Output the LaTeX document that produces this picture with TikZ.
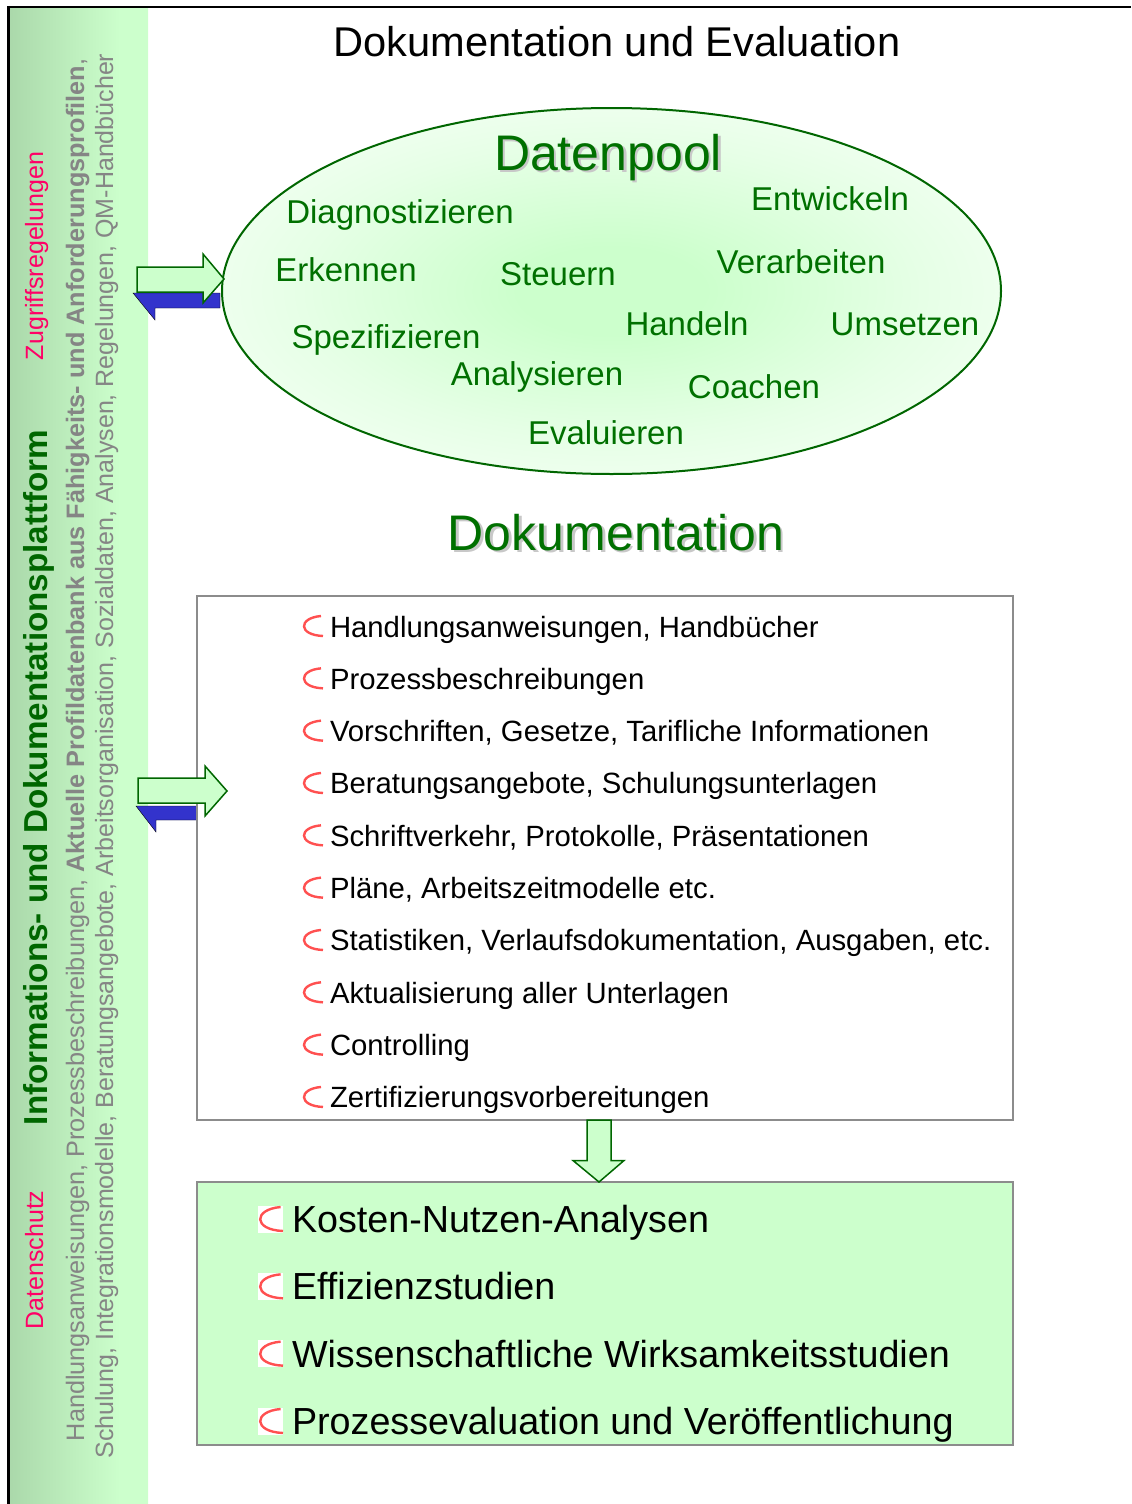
\documentclass[tikz,border=0pt]{standalone}
\usepackage{fontspec}
\setmainfont{Liberation Sans}
\usetikzlibrary{shapes.geometric,calc}
\definecolor{bandL}{HTML}{9CC89C}
\definecolor{bandR}{HTML}{CCFFCC}
\definecolor{lightgreen}{HTML}{CCFFCC}
\definecolor{darkgreen}{HTML}{006600}
\definecolor{wordgreen}{HTML}{007000}
\definecolor{pinkred}{HTML}{FF0066}
\definecolor{sidegray}{HTML}{858585}
\definecolor{boxgray}{HTML}{8C8C8C}
\definecolor{arrowblue}{HTML}{3333CC}
\definecolor{bulletred}{HTML}{FF5050}
\definecolor{poolcenter}{HTML}{CCFFCC}
\definecolor{poolmid}{HTML}{E6FFE6}
\definecolor{pooledge}{HTML}{FAFFFA}
\definecolor{shadowgray}{HTML}{C8C8C8}
\pgfdeclarehorizontalshading{bandshade}{100bp}{color(0bp)=(bandL); color(8bp)=(bandL); color(65bp)=(bandR); color(100bp)=(bandR)}
\pgfdeclareradialshading{poolshade}{\pgfpoint{0bp}{0bp}}{color(0bp)=(poolcenter); color(6bp)=(poolcenter); color(20bp)=(poolmid); color(34bp)=(pooledge); color(50bp)=(pooledge)}
\tikzset{
  redc/.pic={\draw[bulletred, line width=2.4pt, line cap=butt] (8,-10) .. controls (-15,-8) and (-15,9) .. (10,10);}
}
\begin{document}
\begin{tikzpicture}[x=1pt,y=-1pt,
  every node/.style={inner sep=0pt, outer sep=0pt},
  word/.style={text=wordgreen, font=\fontsize{33}{40}\selectfont, anchor=base},
  heading/.style={text=wordgreen, font=\fontsize{50}{60}\selectfont, anchor=base},
  headshadow/.style={text=shadowgray, font=\fontsize{50}{60}\selectfont, anchor=base},
  listitem/.style={font=\fontsize{29.3}{35}\selectfont, anchor=base west},
  bigitem/.style={font=\fontsize{37.7}{45}\selectfont, anchor=base west},
  sidepink/.style={text=pinkred, font=\fontsize{25}{30}\selectfont, rotate=90, anchor=base},
  sidegraytext/.style={text=sidegray, font=\fontsize{25}{30}\selectfont, rotate=90, anchor=base},
  blockarrow/.style={fill=lightgreen, draw=darkgreen, line width=1.5pt, line join=miter},
  backarrow/.style={fill=arrowblue},
  boxframe/.style={draw=boxgray, line width=1.5pt, rectangle, anchor=north west}
]
\useasboundingbox (0,0) rectangle (1132,1504);
% side band
\shade[shading=bandshade] (9,7) rectangle (148,1504);
\draw[black, line width=2pt] (7.5,7) -- (1131,7);
\draw[black, line width=2.6pt] (8.5,6) -- (8.5,1504);

% side texts
\node[sidepink] (zugriff) at (43,256) {Zugriffsregelungen};
\node[sidepink] (datenschutz) at (43,1260) {Datenschutz};
\node[rotate=90, anchor=base, text=darkgreen, font=\bfseries\fontsize{33.2}{40}\selectfont] (plattform) at (47,777.5) {Informations- und Dokumentationsplattform};
\node[sidegraytext, font=\fontsize{25.25}{30}\selectfont] (colb) at (84,750) {Handlungsanweisungen, Prozessbeschreibungen, \textbf{Aktuelle Profildatenbank aus Fähigkeits- und Anforderungsprofilen},};
\node[sidegraytext] (colc) at (113,756) {Schulung, Integrationsmodelle, Beratungsangebote, Arbeitsorganisation, Sozialdaten, Analysen, Regelungen, QM-Handbücher};

% title
\node[anchor=base, font=\fontsize{41.6}{50}\selectfont] (title) at (617,57) {Dokumentation und Evaluation};

% ellipse
\node[ellipse, draw=darkgreen, line width=2pt, shade, shading=poolshade, minimum width=779pt, minimum height=366pt] (pool) at (611.5,291) {};
\node[headshadow] at (610.5,172.5) {Datenpool};
\node[heading] (datenpool) at (608,170) {Datenpool};
\node[word] (w1) at (400,223) {Diagnostizieren};
\node[word] (w2) at (830,210) {Entwickeln};
\node[word] (w3) at (346,281) {Erkennen};
\node[word] (w4) at (558,285) {Steuern};
\node[word] (w5) at (801,273) {Verarbeiten};
\node[word] (w6) at (386,348) {Spezifizieren};
\node[word] (w7) at (687,335) {Handeln};
\node[word] (w8) at (905,335) {Umsetzen};
\node[word] (w9) at (537,385) {Analysieren};
\node[word] (w10) at (754,398) {Coachen};
\node[word] (w11) at (606,444) {Evaluieren};

% Dokumentation heading
\node[headshadow] at (618.5,552.5) {Dokumentation};
\node[heading] (dokhead) at (616,550) {Dokumentation};

% list box
\node[boxframe, fill=white, minimum width=816pt, minimum height=524pt] (listbox) at (197,596) {};
\foreach \t [count=\i] in {{Handlungsanweisungen, Handbücher},{Prozessbeschreibungen},{Vorschriften, Gesetze, Tarifliche Informationen},{Beratungsangebote, Schulungsunterlagen},{Schriftverkehr, Protokolle, Präsentationen},{Pläne, Arbeitszeitmodelle etc.},{Statistiken, Verlaufsdokumentation, Ausgaben, etc.},{Aktualisierung aller Unterlagen},{Controlling},{Zertifizierungsvorbereitungen}}{
  \pgfmathsetmacro\yy{626+(\i-1)*52.33}
  \pic at (313,\yy) {redc};
  \node[listitem] (item\i) at (330,\yy+11) {\t};
}

% green result box
\node[boxframe, fill=lightgreen, minimum width=816pt, minimum height=263pt] (resbox) at (197,1182) {};
\foreach \t [count=\i] in {{Kosten-Nutzen-Analysen},{Effizienzstudien},{Wissenschaftliche Wirksamkeitsstudien},{Prozessevaluation und Veröffentlichung}}{
  \pgfmathsetmacro\yy{1219+(\i-1)*67.33}
  \fill[white] (258,\yy-13.5) rectangle (283,\yy+13.5);
  \pic[scale=1.2] at (271,\yy) {redc};
  \node[bigitem] (res\i) at (292,\yy+13.5) {\t};
}

% down arrow from list box to result box
\coordinate (dtop) at ($(listbox.south west)+(402,0)$);
\coordinate (dtip) at ($(resbox.north west)+(402,0)$);
\draw[blockarrow] ($(dtop)+(-12,0)$) -- ($(dtop)+(12,0)$) -- ($(dtop)+(12,40.5)$) -- ($(dtop)+(25,40.5)$) -- (dtip) -- ($(dtop)+(-26,40.5)$) -- ($(dtop)+(-12,40.5)$) -- cycle;

% left arrows: to the ellipse
\coordinate (tipA) at (pool.west);
\draw[backarrow] (133,293) -- (220,293) -- (220,308) -- (155,308) -- (155,320) -- cycle;
\draw[blockarrow] (137,267) -- (203,267) -- (203,254) -- ($(tipA)+(2,-12)$) -- (203,303) -- (203,292) -- (137,292) -- cycle;

% left arrows: to the list box
\draw[backarrow] (136,806) -- (197,806) -- (197,820) -- (156,820) -- (156,832) -- cycle;
\draw[draw=boxgray, line width=1.5pt] (listbox.north west) -- (listbox.south west);
\draw[blockarrow] (138,778) -- (205,778) -- (205,766) -- (227,791) -- (205,816) -- (205,803) -- (138,803) -- cycle;
\end{tikzpicture}
\end{document}
